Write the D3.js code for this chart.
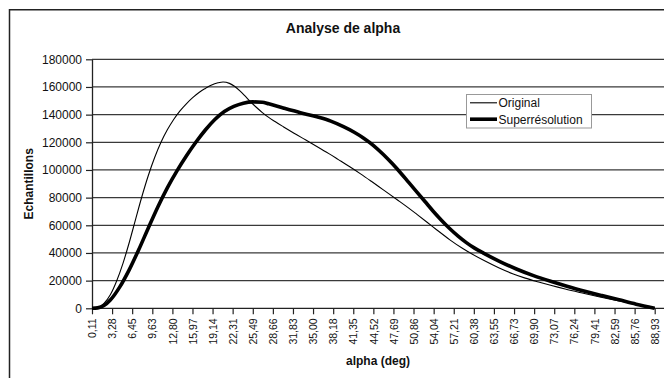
<!DOCTYPE html>
<html><head><meta charset="utf-8">
<script src="https://cdn.jsdelivr.net/npm/d3@7"></script>
<style>html,body{margin:0;padding:0;background:#fff;}svg{display:block;}</style>
</head><body>
<svg id="chart" width="664" height="378"></svg>
<script>
const xTickLabels = ["0,11","3,28","6,45","9,63","12,80","15,97","19,14","22,31","25,49","28,66","31,83","35,00","38,18","41,35","44,52","47,69","50,86","54,04","57,21","60,38","63,55","66,73","69,90","73,07","76,24","79,41","82,59","85,76","88,93"];
const yTicks = [0,20000,40000,60000,80000,100000,120000,140000,160000,180000];

const origAlpha = [0.11,1.0,2.0,3.0,4.0,5.0,6.0,7.0,8.0,9.0,10.0,11.0,12.0,13.0,14.0,15.0,16.0,17.0,18.0,19.0,20.0,20.8,21.8,22.6,23.5,24.3,25.1,26.0,27.0,28.0,29.0,30.3,32.0,33.8,35.6,37.5,39.0,40.8,42.5,44.2,46.1,48.5,50.0,51.4,53.0,54.5,56.6,58.7,60.1,62.0,64.3,66.5,68.5,70.6,72.5,74.8,77.5,80.1,82.5,85.3,87.5,88.93];
const origValues = [0,400,3500,9750,19750,32500,47750,64500,81000,96000,109000,120000,129000,136500,142750,147850,152300,156050,158950,161500,163000,163600,162600,160500,157000,153300,149500,145500,141500,138000,135000,131300,126600,121800,117000,111800,107500,102300,97200,91800,85600,77800,72800,67900,62200,56800,49500,43000,39200,34500,29300,25000,21800,19000,16600,13900,11000,8300,6000,3500,1500,300];

const superAlpha = [0.11,1.0,2.0,3.0,4.5,6.0,7.5,9.0,10.5,12.0,13.5,15.0,16.5,18.0,19.5,21.0,22.5,24.0,25.5,27.0,28.0,30.3,33.0,35.6,37.8,39.8,41.5,43.0,44.6,46.1,47.5,48.8,50.1,51.4,52.7,54.0,55.3,56.6,57.9,59.2,60.5,61.9,64.5,67.1,69.8,72.5,75.2,77.9,80.6,83.3,86.0,88.93];
const superValues = [0,300,2000,6000,15500,28000,42500,58100,73300,87100,99200,110100,120000,128900,136500,142300,146000,148300,149200,149000,147800,144800,141400,138400,135300,131300,127300,123000,117500,111200,104600,98000,91000,84000,77000,70000,63500,57500,52200,47500,43500,39900,33800,28400,23600,19500,15800,12400,9200,6100,3000,0];

const seriesNames = ["Original","Superrésolution"];

const svg = d3.select("#chart");
const font = "'Liberation Sans', Arial, sans-serif";

// outer chart border
svg.append("rect").attr("x",9.5).attr("y",9.75).attr("width",700).attr("height",400)
  .attr("fill","#fff").attr("stroke","#222").attr("stroke-width",1.5);

const x = d3.scaleLinear().domain([0.11,88.93]).range([92,654.7]);
const y = d3.scaleLinear().domain([0,180000]).range([308.3,59.3]);
const plotRight = 680;

// gridlines
svg.append("g").selectAll("line").data(yTicks.filter(d=>d>0)).join("line")
  .attr("x1",92).attr("x2",plotRight).attr("y1",d=>y(d)).attr("y2",d=>y(d))
  .attr("stroke","#3a3a3a").attr("stroke-width",1.3);

// y axis
const yAxis = svg.append("g").attr("transform","translate(92,0)")
  .call(d3.axisLeft(y).tickValues(yTicks).tickFormat(d=>String(d)).tickSize(6).tickSizeOuter(0));
yAxis.select(".domain").attr("stroke","#222").attr("stroke-width",1.3);
yAxis.selectAll(".tick line").attr("stroke","#222").attr("stroke-width",1.2);
yAxis.selectAll("text").attr("font-family",font).attr("font-size","12px").attr("fill","#111").attr("x",-10);

// x axis
const xVals = xTickLabels.map(s=>+s.replace(",","."));
const xAxis = svg.append("g").attr("transform","translate(0,308.3)")
  .call(d3.axisBottom(x).tickValues(xVals).tickFormat((d,i)=>xTickLabels[i]).tickSize(6).tickSizeOuter(0));
xAxis.select(".domain").attr("d","M92,0H"+plotRight).attr("stroke","#222").attr("stroke-width",1.3);
xAxis.selectAll(".tick line").attr("stroke","#222").attr("stroke-width",1.2);
xAxis.selectAll("text").attr("font-family",font).attr("font-size","10.5px").attr("fill","#111")
  .attr("transform","rotate(-90)").attr("text-anchor","end").attr("x",-10).attr("y",0).attr("dy","0.35em");

// lines
const line = d3.line().x(d=>x(d[0])).y(d=>y(d[1])).curve(d3.curveMonotoneX);
svg.append("path").datum(origAlpha.map((a,i)=>[a,origValues[i]]))
  .attr("d",line).attr("fill","none").attr("stroke","#000").attr("stroke-width",1.1);
svg.append("path").datum(superAlpha.map((a,i)=>[a,superValues[i]]))
  .attr("d",line).attr("fill","none").attr("stroke","#000").attr("stroke-width",3.6).attr("stroke-linejoin","round");

// title
svg.append("text").attr("x",343).attr("y",33).attr("text-anchor","middle")
  .attr("font-family",font).attr("font-size","14px").attr("font-weight","bold").attr("fill","#111")
  .text("Analyse de alpha");
// axis titles
svg.append("text").attr("transform","translate(33,183.8) rotate(-90)").attr("text-anchor","middle")
  .attr("font-family",font).attr("font-size","12px").attr("font-weight","bold").attr("fill","#111")
  .text("Echantillons");
svg.append("text").attr("x",378).attr("y",365).attr("text-anchor","middle")
  .attr("font-family",font).attr("font-size","12px").attr("font-weight","bold").attr("fill","#111")
  .text("alpha (deg)");

// legend
const lg = svg.append("g");
lg.append("rect").attr("x",466.5).attr("y",94.5).attr("width",125).attr("height",33.5)
  .attr("fill","#fff").attr("stroke","#999").attr("stroke-width",1);
const widths=[1.1,3.6], rowsY=[102.8,119.2];
seriesNames.forEach((n,i)=>{
  lg.append("line").attr("x1",470).attr("x2",497).attr("y1",rowsY[i]).attr("y2",rowsY[i])
    .attr("stroke","#000").attr("stroke-width",widths[i]);
  lg.append("text").attr("x",498.5).attr("y",rowsY[i]+4.3)
    .attr("font-family",font).attr("font-size","12px").attr("fill","#111").text(n);
});
</script>
</body></html>
